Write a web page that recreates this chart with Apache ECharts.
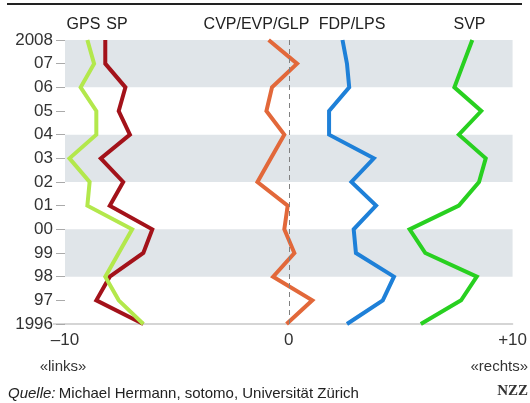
<!DOCTYPE html>
<html>
<head>
<meta charset="utf-8">
<script src="https://cdn.jsdelivr.net/npm/echarts@6/dist/echarts.min.js"></script>
<style>
html,body{margin:0;padding:0;background:#fff;}
#chart{width:530px;height:403px;}
</style>
</head>
<body>
<div id="chart"></div>
<script>
// Data (years bottom to top)
var years = [1996,1997,1998,1999,2000,2001,2002,2003,2004,2005,2006,2007,2008];
var gps = [-6.5,-7.6,-8.2,-7.6,-7.0,-9.0,-8.9,-9.8,-8.6,-8.6,-9.3,-8.7,-9.0];
var sp  = [-6.5,-8.6,-8.0,-6.5,-6.1,-8.0,-7.4,-8.4,-7.1,-7.6,-7.3,-8.2,-8.2];
var cvp = [-0.1,1.05,-0.7,0.25,-0.2,-0.05,-1.4,-0.8,-0.2,-1.0,-0.75,0.37,-0.9];
var fdp = [2.6,4.2,4.7,3.0,2.9,3.9,2.8,3.8,1.8,1.8,2.7,2.6,2.4];
var svp = [5.9,7.7,8.4,6.1,5.4,7.6,8.5,8.8,7.6,8.6,7.4,7.8,8.2];
var seriesNames = ['GPS','SP','CVP/EVP/GLP','FDP/LPS','SVP'];
var bands = [[1998,2000],[2002,2004],[2006,2008]];
var xTicks = {'-10':'–10','0':'0','10':'+10'};

var colors = {GPS:'#b3e84c', SP:'#a3121a', 'CVP/EVP/GLP':'#e2683a', 'FDP/LPS':'#1e80d8', SVP:'#28d020'};
var values = {GPS:gps, SP:sp, 'CVP/EVP/GLP':cvp, 'FDP/LPS':fdp, SVP:svp};
var labelX = {GPS:83.5, SP:117, 'CVP/EVP/GLP':256.5, 'FDP/LPS':352, SVP:469.5};

var chart = echarts.init(document.getElementById('chart'), null, {renderer:'canvas'});
var font = '"Liberation Sans", Arial, sans-serif';

var series = [{
  type:'line', data:[], silent:true,
  markArea:{silent:true, itemStyle:{color:'#e0e5e9'},
    data: bands.map(function(b){return [{yAxis:b[0]},{yAxis:b[1]}];})},
  markLine:{silent:true, symbol:'none', label:{show:false},
    lineStyle:{color:'#808080', type:[5,4], width:1},
    data:[{xAxis:0}]}
}];
['SP','GPS','CVP/EVP/GLP','FDP/LPS','SVP'].forEach(function(n){
  series.push({
    name:n, type:'line', symbol:'none', silent:true,
    lineStyle:{color:colors[n], width:4, join:'miter'},
    data: years.map(function(y,i){return [values[n][i], y];})
  });
});

var graphics = [
  {type:'line', shape:{x1:7,y1:4,x2:522,y2:4}, style:{stroke:'#222', lineWidth:2}},
  {type:'line', shape:{x1:53,y1:324,x2:65,y2:324}, style:{stroke:'#c8c8c8', lineWidth:1.5}},
  {type:'text', x:63, y:367, style:{text:'«links»', font:'15px '+font, fill:'#333', textAlign:'center', textVerticalAlign:'middle'}},
  {type:'text', x:528, y:367, style:{text:'«rechts»', font:'15px '+font, fill:'#333', textAlign:'right', textVerticalAlign:'middle'}},
  {type:'text', x:8, y:394, style:{
    rich:{i:{fontStyle:'italic', fontSize:15, fontFamily:font, fill:'#222'}, n:{fontSize:15, fontFamily:font, fill:'#222'}},
    text:'{i|Quelle:} {n|Michael Hermann, sotomo, Universität Zürich}', textVerticalAlign:'middle'}},
  {type:'text', x:528, y:391, style:{text:'NZZ', font:'bold 15px "Liberation Serif", "DejaVu Serif", serif', fill:'#333', textAlign:'right', textVerticalAlign:'middle'}}
];
seriesNames.forEach(function(n){
  graphics.push({type:'text', x:labelX[n], y:25, style:{text:n, font:'16px '+font, fill:'#222', textAlign:'center', textVerticalAlign:'middle'}});
});

chart.setOption({
  animation:false,
  grid:{left:65, right:12, top:40, bottom:79},
  xAxis:{type:'value', min:-10, max:10, interval:10,
    axisLine:{show:true, onZero:false, lineStyle:{color:'#c8c8c8', width:1.5}},
    axisTick:{show:false}, splitLine:{show:false},
    axisLabel:{fontSize:17, fontFamily:font, color:'#333', margin:8,
      formatter:function(v){return xTicks[String(v)];}}},
  yAxis:{type:'value', min:1996, max:2008, interval:1,
    axisLine:{show:false, onZero:false},
    axisTick:{show:true, length:9, lineStyle:{color:'#aaa'}},
    splitLine:{show:false},
    axisLabel:{fontSize:17, fontFamily:font, color:'#333', margin:12,
      formatter:function(v){return (v===2008||v===1996)?String(v):String(v).slice(2);}}},
  series:series,
  graphic:graphics
});
</script>
</body>
</html>
